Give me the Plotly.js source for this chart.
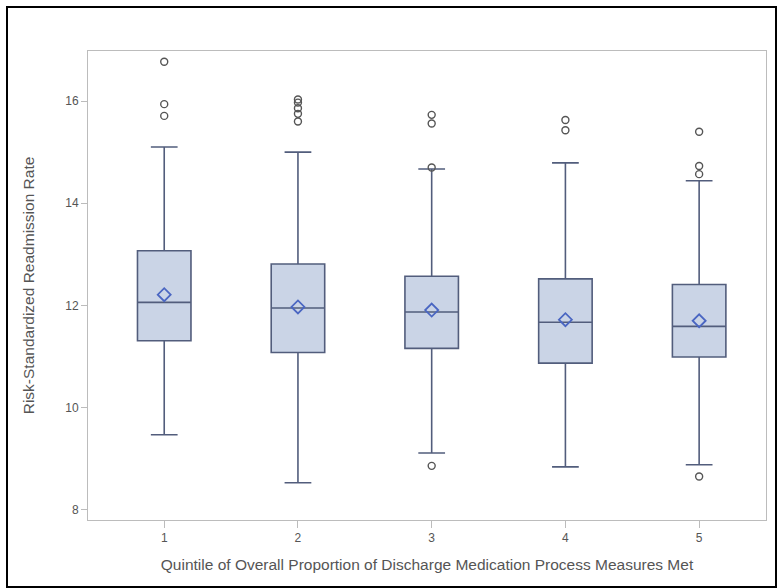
<!DOCTYPE html>
<html>
<head>
<meta charset="utf-8">
<script src="https://cdn.plot.ly/plotly-3.0.1.min.js"></script>
<style>
  html, body { margin: 0; padding: 0; background: #ffffff; }
  #wrap { position: relative; width: 780px; height: 588px; }
  #chart { width: 780px; height: 588px; }
  #frame { position: absolute; left: 6px; top: 6px; width: 767px; height: 578px;
           border: 2px solid #000; pointer-events: none; }
</style>
</head>
<body>
<div id="wrap">
  <div id="chart"></div>
  <div id="frame"></div>
</div>
<script>
// Quintile categories
const quintiles = [1, 2, 3, 4, 5];
const tickLabels = ["1", "2", "3", "4", "5"];

// Box statistics
const lowerWhisker = [9.47, 8.53, 9.11, 8.84, 8.88];
const q1Values     = [11.31, 11.08, 11.16, 10.87, 10.99];
const medians      = [12.06, 11.95, 11.87, 11.67, 11.59];
const q3Values     = [13.07, 12.81, 12.57, 12.52, 12.41];
const upperWhisker = [15.10, 15.00, 14.67, 14.79, 14.44];
const means        = [12.21, 11.97, 11.91, 11.72, 11.70];

// Outliers
const outlierQuintile = [1, 1, 1, 2, 2, 2, 2, 2, 3, 3, 3, 3, 4, 4, 5, 5, 5, 5];
const outlierValues   = [16.77, 15.94, 15.71, 16.03, 15.97, 15.86, 15.75, 15.60,
                         15.73, 15.56, 14.70, 8.86, 15.63, 15.43, 15.40, 14.73, 14.57, 8.65];

const xTitle = "Quintile of Overall Proportion of Discharge Medication Process Measures Met";
const yTitle = "Risk-Standardized Readmission Rate";

const font = "Liberation Sans, Arial, sans-serif";

const traces = [
  {
    type: "box",
    x: quintiles,
    q1: q1Values,
    median: medians,
    q3: q3Values,
    lowerfence: lowerWhisker,
    upperfence: upperWhisker,
    width: 0.4,
    whiskerwidth: 0.5,
    fillcolor: "#cad4e6",
    line: { color: "#525d7c", width: 1.6 },
    boxpoints: false,
    showlegend: false,
    hoverinfo: "skip"
  },
  {
    type: "scatter",
    mode: "markers",
    x: quintiles,
    y: means,
    marker: { symbol: "diamond-open", size: 10, color: "#4a66c2", line: { width: 1.8, color: "#4a66c2" } },
    showlegend: false,
    hoverinfo: "skip"
  },
  {
    type: "scatter",
    mode: "markers",
    x: outlierQuintile,
    y: outlierValues,
    marker: { symbol: "circle-open", size: 7, color: "#555555", line: { width: 1.4, color: "#555555" } },
    showlegend: false,
    hoverinfo: "skip"
  }
];

const layout = {
  width: 780,
  height: 588,
  paper_bgcolor: "#ffffff",
  plot_bgcolor: "#ffffff",
  margin: { l: 88, r: 14, t: 51, b: 68 },
  font: { family: font, color: "#555555", size: 12 },
  xaxis: {
    range: [0.43, 5.5],
    tickvals: quintiles,
    ticktext: tickLabels,
    showgrid: false,
    zeroline: false,
    showline: true,
    mirror: true,
    linecolor: "#bcbcbc",
    linewidth: 1,
    ticks: "outside",
    ticklen: 7,
    tickcolor: "#bcbcbc",
    tickfont: { family: font, size: 12, color: "#555555" },
    title: { text: xTitle, font: { family: font, size: 15.5, color: "#555555" }, standoff: 14 },
    automargin: false
  },
  yaxis: {
    range: [7.8, 16.98],
    tickvals: [8, 10, 12, 14, 16],
    showgrid: false,
    zeroline: false,
    showline: true,
    mirror: true,
    linecolor: "#bcbcbc",
    linewidth: 1,
    ticks: "outside",
    ticklen: 6,
    tickcolor: "#bcbcbc",
    tickfont: { family: font, size: 12, color: "#555555" },
    title: { text: yTitle, font: { family: font, size: 15.5, color: "#555555" }, standoff: 26 },
    automargin: false
  }
};

Plotly.newPlot("chart", traces, layout, { displayModeBar: false, staticPlot: true });
</script>
</body>
</html>
